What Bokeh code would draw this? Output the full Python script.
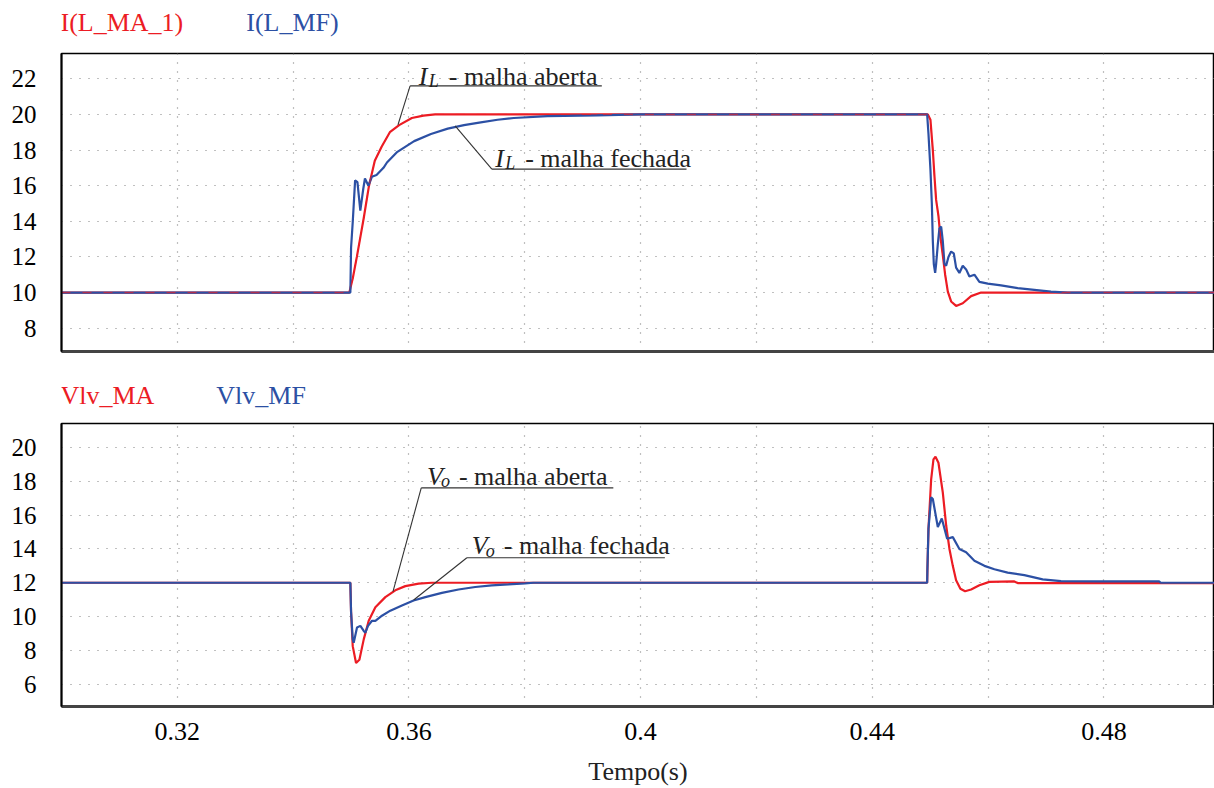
from bokeh.plotting import figure
from bokeh.layouts import column
from bokeh.models import FixedTicker, Label
from bokeh.core.properties import value
from bokeh.embed import file_html
from bokeh.resources import INLINE

# ---------------------------------------------------------------- data
# time axis (s)
x_start, x_end = 0.3, 0.4991
x_tick_values = [0.32, 0.36, 0.40, 0.44, 0.48]
x_tick_labels = ["0.32", "0.36", "0.4", "0.44", "0.48"]
x_grid_values = [0.30, 0.32, 0.34, 0.36, 0.38, 0.40, 0.42, 0.44, 0.46, 0.48]

# inductor current, open loop  -> I(L_MA_1)
t_il_ma = [0.3, 0.3497, 0.3503, 0.3510, 0.3516, 0.3522, 0.3531, 0.3541, 0.3553,
           0.3567, 0.3583, 0.3605, 0.3625, 0.3645, 0.4496, 0.45005, 0.45046,
           0.45075, 0.45103, 0.45143, 0.45178, 0.45218, 0.45259, 0.45305,
           0.45362, 0.45448, 0.45563, 0.45707, 0.45879, 0.4991]
il_ma = [10, 10, 10.8, 12, 13.1, 14.2, 16, 17.4, 18.2, 19.0, 19.4, 19.8, 19.93,
         20, 20, 19.7, 18.0, 16.5, 15.2, 14.3, 13.1, 12.1, 11.0, 10.05, 9.5,
         9.25, 9.4, 9.8, 10.0, 10.0]

# inductor current, closed loop -> I(L_MF)
t_il_mf = [0.3, 0.34988, 0.3500, 0.3503, 0.3507, 0.3511, 0.3516, 0.3521, 0.3524,
           0.3530, 0.3536, 0.3544, 0.3556, 0.3562, 0.3580, 0.3609, 0.3638,
           0.3667, 0.3695, 0.3724, 0.3753, 0.3781, 0.3839, 0.3925, 0.4000,
           0.44948, 0.44971, 0.45005, 0.45029, 0.45046, 0.45063, 0.45086,
           0.45103, 0.45132, 0.45160, 0.45190, 0.45218, 0.45247, 0.45276,
           0.45316, 0.45362, 0.45408, 0.45448, 0.45505, 0.45563, 0.45621,
           0.45678, 0.45764, 0.45850, 0.45995, 0.46224, 0.46512, 0.46799,
           0.47086, 0.47374, 0.4991]
il_mf = [10, 10, 12.5, 14, 16.3, 16.2, 14.6, 15.8, 16.4, 16.0, 16.5, 16.6, 17.0,
         17.3, 17.9, 18.5, 18.9, 19.2, 19.4, 19.55, 19.7, 19.8, 19.9, 19.95, 20,
         20, 18.9, 16.9, 15.0, 12.9, 11.6, 11.1, 11.6, 12.7, 13.6, 13.7, 12.9,
         11.6, 11.5, 12.0, 12.3, 12.2, 11.4, 11.1, 11.5, 11.3, 10.9, 11.0, 10.6,
         10.5, 10.4, 10.25, 10.15, 10.05, 10.0, 10.0]

# output voltage, open loop -> Vlv_MA
t_vo_ma = [0.3, 0.34988, 0.3500, 0.35029, 0.35086, 0.35144, 0.35219, 0.35305,
           0.35420, 0.35592, 0.35764, 0.35937, 0.36167, 0.36397, 0.44948,
           0.44952, 0.44971, 0.45017, 0.45057, 0.45092, 0.45143, 0.45218,
           0.45276, 0.45333, 0.45391, 0.45448, 0.45522, 0.45603, 0.45707,
           0.45850, 0.46022, 0.46453, 0.46512, 0.4991]
vo_ma = [12, 12, 10.3, 8.25, 7.25, 7.45, 8.65, 9.75, 10.55, 11.15, 11.55, 11.8,
         11.95, 12, 12, 12.7, 15.2, 18.1, 19.3, 19.45, 19.1, 17.35, 15.4, 14.0,
         13.0, 12.15, 11.65, 11.5, 11.6, 11.85, 12.05, 12.08, 11.98, 11.98]

# output voltage, closed loop -> Vlv_MF
t_vo_mf = [0.3, 0.34988, 0.3500, 0.35029, 0.35046, 0.35103, 0.35161, 0.35219,
           0.35247, 0.35293, 0.35362, 0.35420, 0.35534, 0.35678, 0.35879,
           0.36080, 0.36282, 0.36569, 0.36856, 0.37144, 0.37431, 0.37718,
           0.38006, 0.38149, 0.44948, 0.44952, 0.44971, 0.45017, 0.45046,
           0.45132, 0.45201, 0.45293, 0.45391, 0.45505, 0.45621, 0.45764,
           0.45937, 0.46109, 0.46339, 0.46626, 0.46943, 0.47259, 0.47948,
           0.48953, 0.48983, 0.4991]
vo_mf = [12, 12, 10.3, 8.65, 8.45, 9.35, 9.45, 9.15, 9.05, 9.45, 9.75, 9.75,
         10.05, 10.35, 10.65, 10.95, 11.15, 11.4, 11.6, 11.75, 11.85, 11.9,
         11.96, 12, 12, 12.7, 15.2, 17.05, 16.95, 15.3, 15.8, 14.6, 14.7, 14.0,
         13.8, 13.3, 13.0, 12.8, 12.6, 12.45, 12.2, 12.1, 12.08, 12.08, 12.0,
         12.0]

il_y_range = (6.69, 23.42)
il_y_ticks = [8, 10, 12, 14, 16, 18, 20, 22]
vo_y_range = (4.68, 21.42)
vo_y_ticks = [6, 8, 10, 12, 14, 16, 18, 20]

il_names = ["I(L_MA_1)", "I(L_MF)"]
vo_names = ["Vlv_MA", "Vlv_MF"]

# callouts: symbol, subscript, caption, text anchor, underline, leader end
il_notes = [
    dict(sym="I", sub="L", caption="- malha aberta", tx=0.3617, ty=22.14,
         ux=(0.3602, 0.3933), uy=21.6, lx=0.3581, ly=19.41),
    dict(sym="I", sub="L", caption="- malha fechada", tx=0.37488, ty=17.54,
         ux=(0.37431, 0.40793), uy=16.93, lx=0.36798, ly=19.36),
]
vo_notes = [
    dict(sym="V", sub="o", caption="- malha aberta", tx=0.3631, ty=18.29,
         ux=(0.36212, 0.39529), uy=17.61, lx=0.35724, ly=11.47),
    dict(sym="V", sub="o", caption="- malha fechada", tx=0.37086, ty=14.19,
         ux=(0.37, 0.40419), uy=13.48, lx=0.36081, ly=10.98),
]

# ---------------------------------------------------------------- style
SERIF = "Liberation Serif"
RED = "#ec1c24"
BLUE = "#2c50a4"
W = 1214


def make_panel(height, border_top, border_bottom, y_range, y_ticks):
    p = figure(width=W, height=height, x_range=(x_start, x_end),
               y_range=y_range, output_backend="svg", toolbar_location=None,
               min_border_left=61, min_border_right=0,
               min_border_top=border_top, min_border_bottom=border_bottom)
    p.outline_line_color = "black"
    p.outline_line_width = 1.5

    p.yaxis.ticker = FixedTicker(ticks=y_ticks)
    p.yaxis.major_tick_out = 0
    p.yaxis.major_tick_in = 0
    p.yaxis.minor_tick_out = 0
    p.yaxis.minor_tick_in = 0
    p.yaxis.axis_line_color = "black"
    p.yaxis.axis_line_width = 2
    p.yaxis.major_label_text_font = SERIF
    p.yaxis.major_label_text_font_size = "25px"
    p.yaxis.major_label_text_color = "black"
    p.yaxis.major_label_standoff = 25

    p.xaxis.major_tick_out = 0
    p.xaxis.major_tick_in = 0
    p.xaxis.minor_tick_out = 0
    p.xaxis.minor_tick_in = 0
    p.xaxis.axis_line_color = "#444444"
    p.xaxis.axis_line_width = 3

    p.xgrid.ticker = FixedTicker(ticks=x_grid_values)
    p.ygrid.ticker = FixedTicker(ticks=y_ticks)
    for g in (p.xgrid, p.ygrid):
        g.grid_line_color = "#808080"
        g.grid_line_width = 1.2
        g.grid_line_dash = "1 8"
    return p


def make_header(height, text_y, names, xs):
    # strip above a panel carrying the coloured signal names
    h = figure(width=W, height=height, x_range=(x_start, x_end),
               y_range=(0, height), output_backend="svg",
               toolbar_location=None, min_border_left=61, min_border_right=0,
               min_border_top=0, min_border_bottom=0)
    h.outline_line_color = None
    h.axis.visible = False
    h.grid.visible = False
    h.text(x=xs, y=[height - text_y] * len(names), text=names,
           text_color=[RED, BLUE], text_font=value(SERIF),
           text_font_size="26px", text_baseline="middle", text_align="left",
           x_offset=-1)
    return h


def add_notes(p, notes, sub_dx, cap_dx):
    for n in notes:
        p.line([n["ux"][0], n["ux"][1]], [n["uy"], n["uy"]],
               line_color="#333333", line_width=1.1)
        p.line([n["ux"][0], n["lx"]], [n["uy"], n["ly"]],
               line_color="#333333", line_width=1.1)
        common = dict(x=n["tx"], y=n["ty"], text_font=SERIF,
                      text_color="#222222", text_baseline="alphabetic",
                      text_align="left")
        p.add_layout(Label(text=n["sym"], text_font_size="26px",
                           text_font_style="italic", **common))
        p.add_layout(Label(text=n["sub"], text_font_size="18px",
                           text_font_style="italic", x_offset=sub_dx,
                           y_offset=-5, **common))
        p.add_layout(Label(text=n["caption"], text_font_size="26px",
                           x_offset=cap_dx, **common))


# ---------------------------------------------------------------- inductor current
head_il = make_header(50, 22, il_names, [x_start, 0.33207])

p_il = make_panel(310, 3, 9, il_y_range, il_y_ticks)
p_il.xaxis.ticker = FixedTicker(ticks=[])
p_il.xaxis.major_label_standoff = 0
p_il.line(t_il_ma, il_ma, line_color=RED, line_width=2.2)
p_il.line(t_il_mf, il_mf, line_color=BLUE, line_width=2.2)
p_il.line(t_il_ma, il_ma, line_color=RED, line_width=1, line_alpha=0.7,
          line_dash="9 12")
add_notes(p_il, il_notes, 10, 30)

# ---------------------------------------------------------------- output voltage
head_vo = make_header(61, 35, vo_names, [x_start, 0.32690])

p_vo = make_panel(367, 2, 81, vo_y_range, vo_y_ticks)
p_vo.line(t_vo_ma, vo_ma, line_color=RED, line_width=2.2)
p_vo.line(t_vo_mf, vo_mf, line_color=BLUE, line_width=2.2)
add_notes(p_vo, vo_notes, 14, 32)

p_vo.xaxis.ticker = FixedTicker(ticks=x_tick_values)
p_vo.xaxis.major_label_overrides = dict(zip(x_tick_values, x_tick_labels))
p_vo.xaxis.major_label_text_font = SERIF
p_vo.xaxis.major_label_text_font_size = "26px"
p_vo.xaxis.major_label_text_color = "black"
p_vo.xaxis.major_label_standoff = 16
p_vo.xaxis.axis_label = "Tempo(s)"
p_vo.xaxis.axis_label_text_font = SERIF
p_vo.xaxis.axis_label_text_font_size = "26px"
p_vo.xaxis.axis_label_text_font_style = "normal"
p_vo.xaxis.axis_label_text_color = "#222222"
p_vo.xaxis.axis_label_standoff = 14

layout = column(head_il, p_il, head_vo, p_vo, spacing=0)
open("out.html", "w").write(file_html(layout, INLINE))
